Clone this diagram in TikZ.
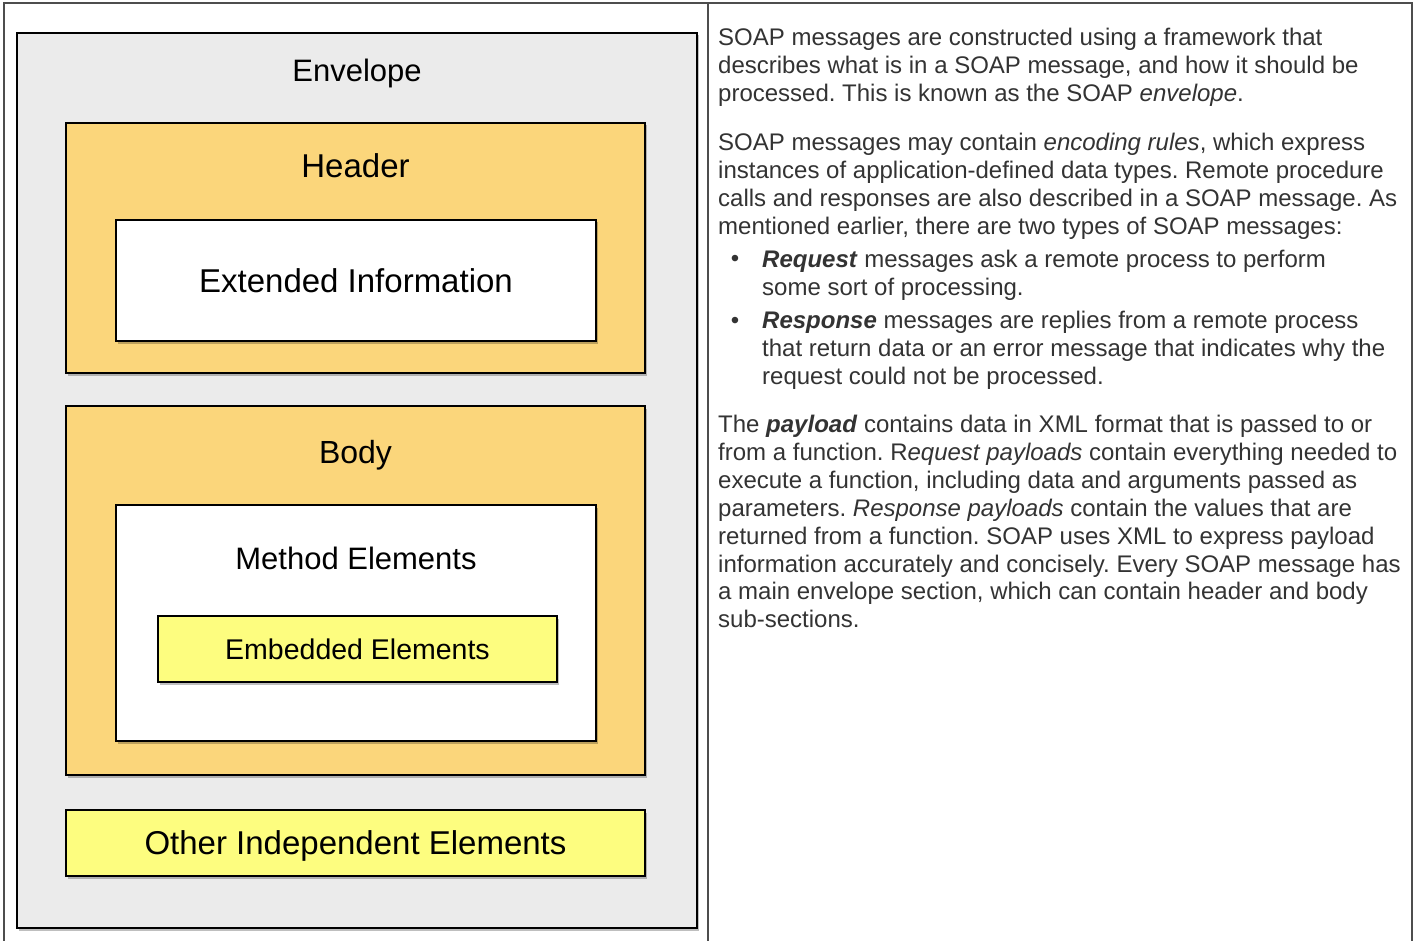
\documentclass[tikz,border=0pt]{standalone}
\usepackage{fontspec}
\setmainfont{Liberation Sans}
\usepackage{tikz}
\usetikzlibrary{positioning, shadows}
\usepackage{xcolor}
\frenchspacing

\definecolor{envgray}{HTML}{EBEBEB}
\definecolor{sandbox}{HTML}{FBD67B}
\definecolor{lemon}{HTML}{FDFD7F}
\definecolor{rulegray}{HTML}{4D4D4D}
\definecolor{bodytext}{HTML}{333333}

\tikzset{
  part/.style={draw=black, line width=2.6pt, inner sep=0pt, text depth=0pt,
    drop shadow={shadow xshift=1.5pt, shadow yshift=-2.5pt, opacity=.25, fill=black}},
  bigfont/.style={font=\fontsize{#1}{36}\selectfont},
  bigfont/.default=32,
  caption/.style={bigfont=#1, inner sep=0pt},
  caption/.default=32,
  prose/.style={anchor=north west, align=left, inner sep=0pt, text=bodytext,
    font=\fontsize{24}{27.9}\selectfont},
  bulletmark/.style={anchor=base, inner sep=0pt, text=bodytext,
    font=\fontsize{24}{27.9}\selectfont}
}

\begin{document}
\begin{tikzpicture}[x=1pt, y=-1pt]
        \useasboundingbox (0,0) rectangle (1416,941);
        \fill[white] (0,0) rectangle (1416,941);

        % table rules
        \draw[rulegray, line width=2pt] (4,941) -- (4,3) -- (1412,3) -- (1412,941);
        \draw[rulegray, line width=2pt] (708,3) -- (708,941);

        % left cell: the message layout
        \node[part, fill=envgray, minimum width=680pt, minimum height=895pt] (envelope) at (357,480.5) {};
        \node[caption=31, below=27pt of envelope.north] (envtitle) {Envelope};

        \node[part, fill=sandbox, minimum width=579pt, minimum height=250pt] (header) at (355.5,248) {};
        \node[caption=33, below=32pt of header.north] (headtitle) {Header};
        \node[part, bigfont=33, fill=white, minimum width=480pt, minimum height=121pt] (extinfo) at (356,280.5) {Extended Information};

        \node[part, fill=sandbox, minimum width=579pt, minimum height=369pt] (body) at (355.5,590.5) {};
        \node[caption=32, below=35pt of body.north] (bodytitle) {Body};
        \node[part, fill=white, minimum width=480pt, minimum height=236pt] (method) at (356,623) {};
        \node[caption=31, below=43pt of method.north] (methodtitle) {Method Elements};
        \node[part, bigfont=28.5, fill=lemon, minimum width=399pt, minimum height=66pt] (embedded) at (357.5,649) {Embedded Elements};

        \node[part, bigfont=33, fill=lemon, minimum width=579pt, minimum height=66pt] (other) at (355.5,843) {Other Independent Elements};

        % right cell: the description
        \node[prose] (intro) at (718,28) {SOAP messages are constructed using a framework that\\
describes what is in a SOAP message, and how it should be\\
processed. This is known as the SOAP \textit{envelope}.};

        \node[prose] (rules) at (718,133) {SOAP messages may contain \textit{encoding rules}, which express\\
instances of application-defined data types. Remote procedure\\
calls and responses are also described in a SOAP message. As\\
mentioned earlier, there are two types of SOAP messages:};

        \node[bulletmark] (dotreq) at (735,267) {•};
        \node[prose] (request) at (762,250) {\textbf{\textit{Request}} messages ask a remote process to perform\\
some sort of processing.};

        \node[bulletmark] (dotresp) at (735,328) {•};
        \node[prose] (response) at (762,311) {\textbf{\textit{Response}} messages are replies from a remote process\\
that return data or an error message that indicates why the\\
request could not be processed.};

        \node[prose] (payload) at (718,415) {The \textbf{\textit{payload}} contains data in XML format that is passed to or\\
from a function. R\textit{equest payloads} contain everything needed to\\
execute a function, including data and arguments passed as\\
parameters. \textit{Response payloads} contain the values that are\\
returned from a function. SOAP uses XML to express payload\\
information accurately and concisely. Every SOAP message has\\
a main envelope section, which can contain header and body\\
sub-sections.};

    \end{tikzpicture}
\end{document}
